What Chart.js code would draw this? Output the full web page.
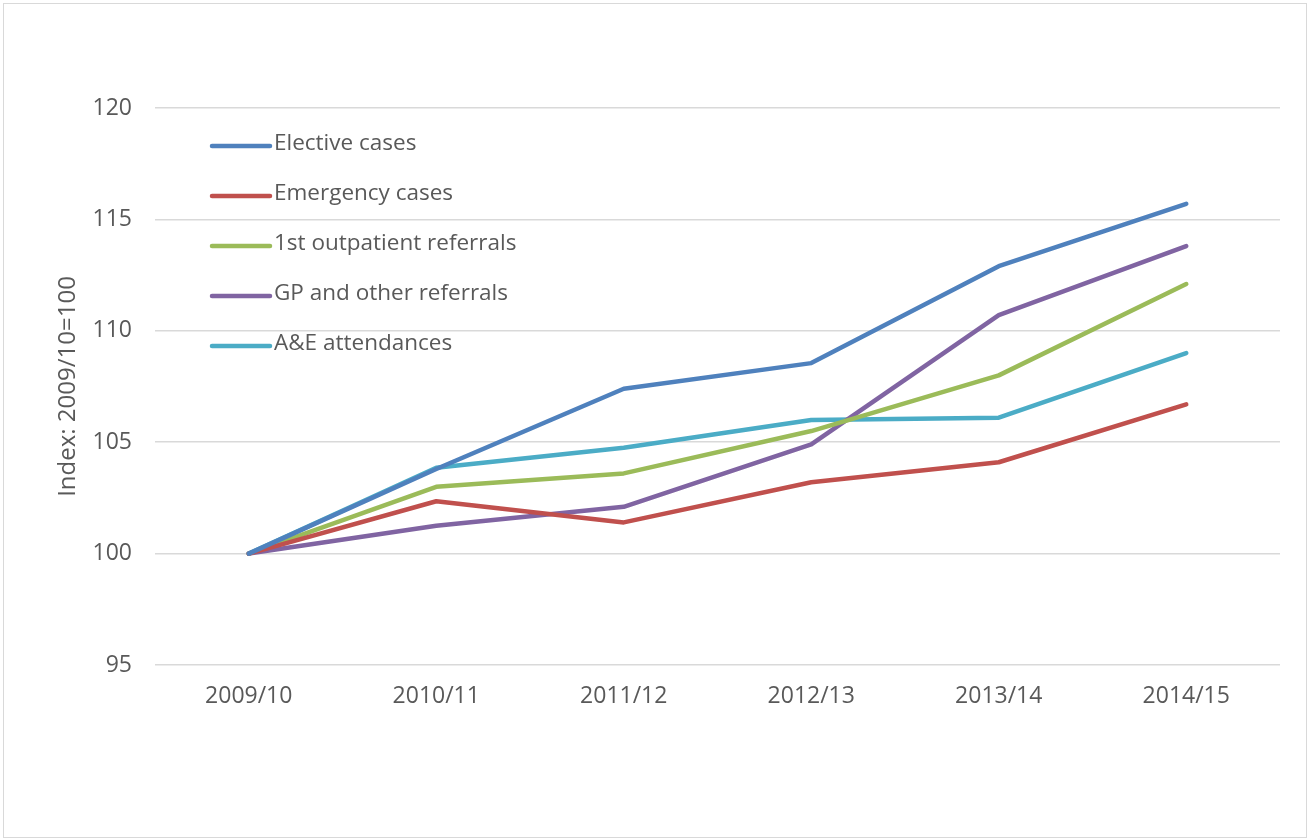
<!DOCTYPE html>
<html>
<head>
<meta charset="utf-8">
<script src="https://cdn.jsdelivr.net/npm/chart.js@4/dist/chart.umd.min.js"></script>
<style>
  html, body { margin: 0; padding: 0; background: #ffffff; }
  canvas { display: block; }
</style>
</head>
<body>
<canvas id="c" width="1310" height="840"></canvas>
<script>
const categories = ["2009/10", "2010/11", "2011/12", "2012/13", "2013/14", "2014/15"];
const seriesNames = ["Elective cases", "Emergency cases", "1st outpatient referrals", "GP and other referrals", "A&E attendances"];
const elective    = [100, 103.8, 107.4, 108.55, 112.9, 115.7];
const emergency   = [100, 102.35, 101.4, 103.2, 104.1, 106.7];
const outpatient  = [100, 103.0, 103.6, 105.5, 108.0, 112.1];
const gpReferrals = [100, 101.25, 102.1, 104.9, 110.7, 113.8];
const aeAttend    = [100, 103.85, 104.75, 106.0, 106.1, 109.0];
const yTicks = [95, 100, 105, 110, 115, 120];
const yTitle = "Index: 2009/10=100";

const colors = ["#4F81BD", "#C0504D", "#9BBB59", "#8064A2", "#4BACC6"];
const FONT = "'Open Sans', 'Liberation Sans', sans-serif";
const TEXT = "#595959";

const seriesValues = [elective, emergency, outpatient, gpReferrals, aeAttend];

const datasets = seriesValues.map((vals, i) => ({
  label: seriesNames[i],
  data: vals,
  borderColor: colors[i],
  backgroundColor: colors[i],
  borderWidth: 4.5,
  borderCapStyle: 'round',
  borderJoinStyle: 'round',
  pointRadius: 0,
  pointHoverRadius: 0,
  tension: 0,
  fill: false
}));

const frame = {
  id: 'frame',
  beforeDraw(chart) {
    const ctx = chart.ctx;
    ctx.save();
    ctx.fillStyle = '#ffffff';
    ctx.fillRect(0, 0, chart.width, chart.height);
    ctx.strokeStyle = '#d9d9d9';
    ctx.lineWidth = 1;
    ctx.strokeRect(3.5, 3.5, chart.width - 7, chart.height - 6);
    ctx.restore();
  }
};

const insideLegend = {
  id: 'insideLegend',
  afterDatasetsDraw(chart) {
    const ctx = chart.ctx;
    ctx.save();
    const x0 = 212, x1 = 270, yStart = 146, step = 50;
    chart.data.datasets.forEach((ds, i) => {
      const y = yStart + i * step;
      ctx.strokeStyle = ds.borderColor;
      ctx.lineWidth = 4.5;
      ctx.lineCap = 'round';
      ctx.beginPath();
      ctx.moveTo(x0, y);
      ctx.lineTo(x1, y);
      ctx.stroke();
      ctx.fillStyle = TEXT;
      ctx.font = "22.5px " + FONT;
      ctx.textBaseline = 'middle';
      ctx.textAlign = 'left';
      ctx.fillText(ds.label, 274, y - 2);
    });
    ctx.restore();
  }
};

new Chart(document.getElementById('c'), {
  type: 'line',
  data: { labels: categories, datasets: datasets },
  options: {
    responsive: false,
    animation: false,
    layout: { padding: { left: 0, top: 108, right: 30, bottom: 115 } },
    plugins: {
      legend: { display: false },
      tooltip: { enabled: false },
      title: { display: false }
    },
    scales: {
      x: {
        type: 'category',
        offset: true,
        grid: { display: false, drawTicks: false },
        border: { display: false },
        ticks: { color: TEXT, font: { family: FONT, size: 23 }, padding: 18, maxRotation: 0 },
        afterFit(s) { s.height = 60; }
      },
      y: {
        min: 95,
        max: 120,
        afterBuildTicks(s) { s.ticks = yTicks.map(v => ({ value: v })); },
        grid: { color: '#d9d9d9', lineWidth: 1.5, drawTicks: false },
        border: { display: false },
        ticks: { color: TEXT, font: { family: FONT, size: 23 }, padding: 23 },
        title: {
          display: true,
          text: yTitle,
          color: TEXT,
          font: { family: FONT, size: 24 },
          padding: { top: 54, bottom: 0 }
        },
        afterFit(s) { s.width = 155; }
      }
    }
  },
  plugins: [frame, insideLegend]
});
</script>
</body>
</html>
